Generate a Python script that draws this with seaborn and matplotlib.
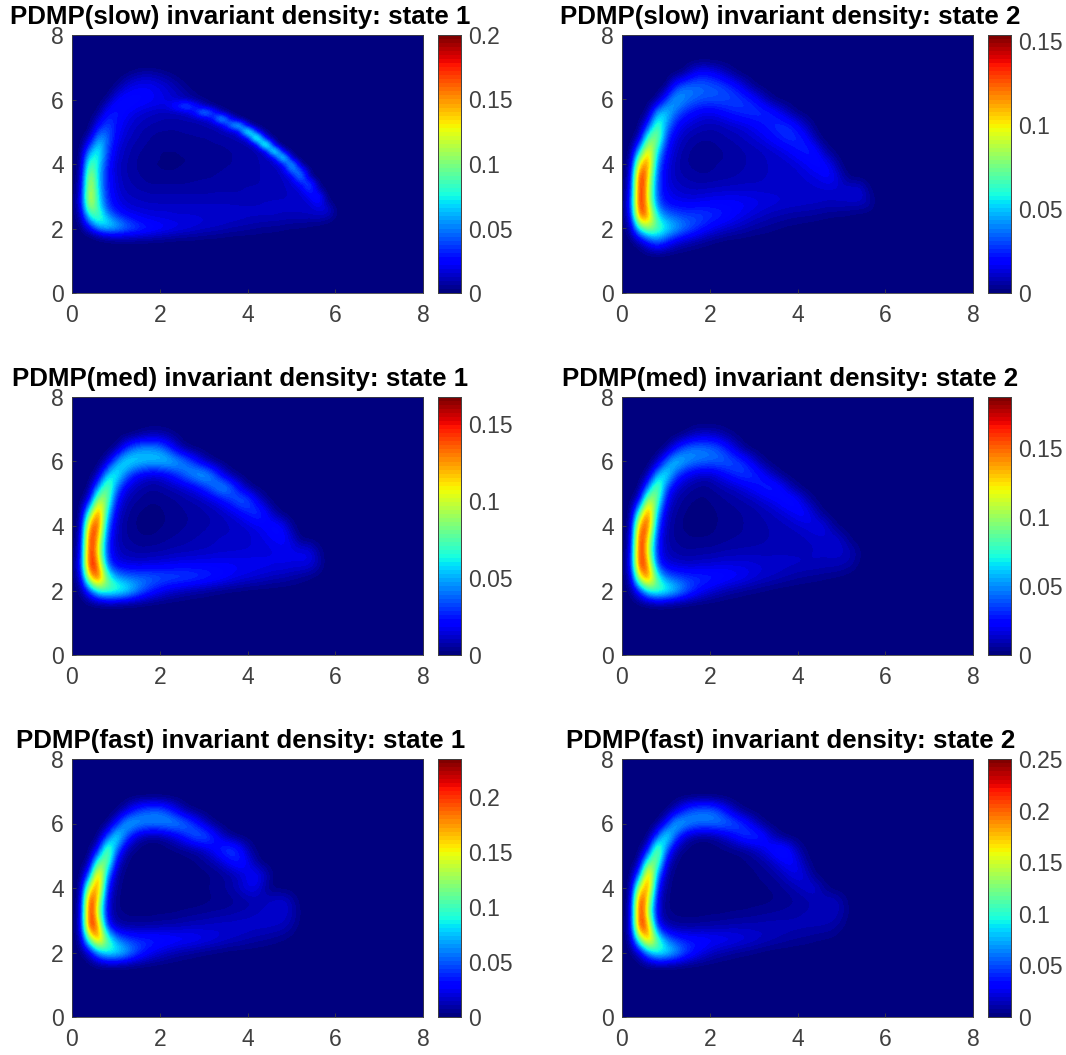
import numpy as np
import seaborn as sns
import matplotlib.pyplot as plt

# density x 1000. columns start at x = 0 with step 0.2,
# trailing zeros left out. rows run from y = 7.2 down to y = 1.6
# slow_state1 has the thin ridge so its rows are 0.2 apart, the others 0.4
slow_state1 = [
    [0],
    [0, 0, 0, 0, 0, 0, 0, 1, 2, 2, 1],
    [0, 0, 0, 0, 0, 0, 2, 6, 9, 9, 7, 4, 1],
    [0, 0, 0, 0, 0, 1, 8, 14, 16, 16, 13, 9, 5, 1],
    [0, 0, 0, 0, 0, 5, 15, 20, 22, 21, 18, 14, 9, 4, 1],
    [0, 0, 0, 0, 1, 13, 22, 25, 25, 23, 20, 16, 12, 7, 3, 1],
    [0, 0, 0, 0, 6, 22, 27, 27, 25, 23, 20, 18, 14, 11, 6, 3, 1],
    [0, 0, 0, 1, 16, 28, 28, 25, 22, 20, 18, 20, 35, 50, 30, 12, 4, 1],
    [0, 0, 0, 5, 26, 30, 25, 20, 16, 14, 12, 12, 13, 16, 28, 65, 38, 10, 2],
    [0, 0, 0, 14, 34, 30, 22, 16, 13, 11, 10, 9, 9, 10, 11, 14, 25, 80, 25, 4],
    [0, 0, 1, 26, 40, 28, 19, 14, 11, 9, 8, 7, 7, 8, 8, 9, 11, 15, 55, 80, 12, 1],
    [0, 0, 4, 42, 45, 26, 17, 12, 9, 7, 6, 6, 6, 7, 7, 8, 8, 10, 12, 20, 110, 25, 3],
    [0, 0, 15, 58, 47, 24, 15, 11, 8, 6, 5, 5, 5, 5, 6, 6, 7, 8, 9, 11, 16, 120, 18, 2],
    [0, 0, 32, 72, 44, 21, 13, 9, 7, 5, 4, 4, 4, 4, 5, 5, 6, 6, 7, 8, 9, 14, 125, 8],
    [0, 0, 55, 80, 40, 18, 12, 8, 6, 4, 3, 3, 3, 4, 4, 5, 5, 6, 6, 7, 8, 9, 13, 110, 12, 1],
    [0, 0, 78, 78, 36, 17, 11, 7, 5, 4, 3, 3, 3, 3, 4, 4, 5, 5, 6, 7, 8, 9, 11, 18, 100, 6],
    [0, 2, 98, 72, 32, 15, 10, 7, 5, 3, 3, 3, 3, 3, 4, 5, 5, 6, 6, 7, 8, 9, 10, 12, 25, 75, 3],
    [0, 3, 112, 68, 30, 15, 10, 7, 5, 4, 3, 3, 3, 4, 4, 5, 6, 6, 7, 7, 8, 9, 10, 11, 14, 55, 45, 1],
    [0, 5, 125, 66, 30, 16, 10, 8, 6, 4, 4, 4, 4, 5, 5, 6, 6, 7, 7, 8, 8, 9, 10, 11, 12, 20, 62, 8],
    [0, 7, 132, 66, 30, 17, 11, 9, 7, 6, 6, 6, 6, 6, 7, 7, 7, 8, 8, 8, 9, 9, 10, 11, 12, 15, 30, 45, 2],
    [0, 10, 135, 68, 31, 18, 12, 10, 9, 8, 8, 8, 8, 8, 8, 8, 9, 9, 9, 9, 10, 10, 11, 11, 12, 13, 16, 42, 12],
    [0, 12, 138, 72, 33, 20, 14, 12, 11, 10, 10, 10, 10, 10, 10, 10, 10, 10, 10, 10, 11, 11, 11, 12, 12, 13, 14, 22, 35, 1],
    [0, 14, 130, 76, 36, 22, 16, 14, 13, 12, 12, 12, 12, 12, 12, 12, 12, 12, 12, 12, 12, 12, 13, 13, 13, 13, 14, 15, 28, 8],
    [0, 12, 110, 85, 42, 28, 20, 17, 16, 15, 15, 15, 14, 14, 14, 14, 14, 14, 14, 13, 13, 13, 13, 13, 13, 13, 13, 14, 17, 18, 2],
    [0, 8, 80, 90, 58, 38, 28, 23, 20, 18, 17, 17, 16, 16, 16, 15, 15, 14, 14, 14, 13, 13, 13, 13, 12, 12, 12, 12, 13, 12, 3],
    [0, 4, 50, 78, 70, 55, 42, 33, 27, 24, 22, 20, 19, 18, 17, 16, 15, 14, 13, 12, 11, 10, 9, 9, 8, 7, 7, 6, 6, 4, 1],
    [0, 1, 22, 50, 60, 55, 45, 38, 32, 28, 24, 21, 19, 17, 15, 13, 12, 11, 9, 8, 7, 6, 5, 5, 4, 3, 3, 2, 1],
    [0, 0, 4, 14, 22, 24, 22, 20, 18, 16, 14, 12, 10, 9, 8, 7, 6, 5, 4, 4, 3, 3, 2, 2, 1, 1],
    [0, 0, 0, 1, 3, 4, 5, 5, 4, 4, 3, 3, 2, 2, 2, 1, 1, 1],
]
slow_state2 = [
    [0],
    [0, 0, 0, 0, 0, 0, 0, 2, 15, 22, 20, 15, 8, 2],
    [0, 0, 0, 0, 0, 0, 25, 38, 38, 36, 34, 32, 28, 22, 12, 3],
    [0, 0, 0, 0, 1, 28, 48, 42, 36, 33, 32, 32, 31, 30, 27, 22, 12, 3],
    [0, 0, 0, 3, 45, 55, 38, 26, 20, 16, 15, 18, 22, 25, 27, 28, 27, 24, 16, 7, 1],
    [0, 0, 1, 25, 75, 45, 22, 14, 11, 9, 8, 8, 10, 12, 14, 17, 21, 25, 27, 26, 18, 8, 1],
    [0, 0, 6, 75, 85, 30, 14, 9, 6, 5, 5, 6, 7, 8, 10, 12, 15, 19, 24, 27, 26, 20, 6],
    [0, 0, 50, 115, 55, 20, 11, 6, 4, 3, 3, 4, 5, 6, 7, 8, 9, 11, 13, 17, 22, 25, 22, 8, 1],
    [0, 3, 110, 125, 38, 16, 9, 5, 4, 3, 4, 5, 5, 6, 7, 8, 9, 10, 10, 11, 13, 17, 22, 21, 12, 1],
    [0, 8, 150, 105, 30, 14, 9, 7, 6, 5, 5, 6, 6, 7, 8, 8, 9, 10, 10, 10, 11, 12, 14, 18, 19, 8],
    [0, 12, 153, 95, 30, 16, 12, 10, 9, 9, 10, 10, 11, 11, 11, 11, 11, 11, 11, 11, 11, 11, 11, 11, 11, 12, 14, 15, 4],
    [0, 20, 154, 95, 32, 20, 17, 16, 16, 17, 18, 19, 19, 19, 18, 17, 15, 14, 13, 12, 12, 11, 11, 10, 10, 10, 10, 10, 8, 1],
    [0, 15, 135, 120, 55, 38, 33, 30, 30, 30, 28, 25, 22, 18, 15, 12, 10, 8, 7, 6, 5, 5, 4, 3, 2, 2, 1],
    [0, 6, 60, 85, 75, 60, 50, 40, 32, 24, 18, 14, 11, 9, 7, 5, 4, 3, 2, 1, 1],
    [0, 0, 5, 22, 35, 25, 14, 9, 6, 4, 2, 1],
]
med_state1 = [
    [0],
    [0, 0, 0, 0, 0, 0, 0, 1, 5, 8, 8, 5, 2],
    [0, 0, 0, 0, 0, 2, 25, 42, 48, 48, 44, 30, 12, 2],
    [0, 0, 0, 0, 8, 45, 65, 62, 58, 56, 58, 58, 52, 42, 26, 10, 2],
    [0, 0, 0, 6, 55, 70, 45, 25, 17, 13, 14, 20, 30, 42, 52, 55, 42, 18, 4],
    [0, 0, 1, 45, 90, 45, 18, 10, 7, 5, 6, 8, 10, 13, 18, 28, 40, 52, 42, 20, 4],
    [0, 0, 15, 105, 85, 25, 10, 6, 4, 3, 3, 4, 5, 7, 8, 10, 14, 20, 30, 40, 38, 18, 4],
    [0, 0, 75, 145, 60, 15, 7, 3, 2, 1, 2, 3, 4, 5, 6, 7, 8, 10, 13, 18, 26, 33, 24, 6],
    [0, 2, 135, 145, 40, 12, 5, 3, 1, 1, 2, 3, 4, 5, 6, 7, 8, 9, 10, 11, 13, 16, 20, 26, 20, 4],
    [0, 6, 160, 120, 30, 10, 6, 4, 3, 3, 4, 5, 6, 7, 8, 9, 10, 11, 11, 11, 12, 14, 16, 19, 22, 14, 1],
    [0, 10, 165, 105, 28, 12, 8, 7, 6, 7, 7, 8, 9, 9, 10, 10, 11, 12, 12, 13, 13, 14, 14, 15, 16, 17, 18, 18, 6],
    [0, 18, 165, 130, 35, 18, 15, 14, 14, 15, 16, 17, 18, 19, 19, 20, 20, 20, 20, 19, 19, 18, 18, 17, 17, 16, 16, 15, 9],
    [0, 10, 115, 150, 80, 50, 42, 40, 40, 40, 38, 37, 36, 35, 33, 30, 27, 24, 20, 17, 15, 13, 11, 9, 8, 6, 4, 2],
    [0, 2, 30, 70, 80, 78, 70, 55, 40, 28, 20, 14, 11, 8, 6, 5, 3, 2, 1, 1],
    [0, 0, 0, 0, 1, 1],
]
med_state2 = [
    [0],
    [0, 0, 0, 0, 0, 0, 0, 2, 10, 14, 14, 11, 6, 2],
    [0, 0, 0, 0, 0, 2, 22, 42, 48, 48, 46, 40, 28, 14, 3],
    [0, 0, 0, 0, 6, 42, 68, 58, 50, 46, 44, 44, 42, 38, 30, 16, 4],
    [0, 0, 0, 5, 55, 78, 42, 24, 16, 12, 12, 18, 26, 33, 36, 33, 24, 12, 3],
    [0, 0, 0, 45, 105, 42, 16, 9, 6, 4, 5, 8, 10, 13, 18, 24, 30, 33, 26, 12, 3],
    [0, 0, 15, 120, 90, 22, 9, 5, 3, 2, 3, 4, 6, 7, 9, 11, 15, 19, 25, 30, 24, 10, 2],
    [0, 0, 85, 165, 58, 13, 6, 3, 1, 1, 2, 3, 4, 5, 6, 7, 9, 11, 14, 18, 24, 24, 12, 2],
    [0, 2, 150, 160, 38, 10, 5, 2, 1, 1, 2, 3, 4, 5, 6, 7, 8, 9, 10, 11, 13, 16, 20, 18, 6],
    [0, 6, 180, 125, 28, 9, 5, 4, 3, 3, 3, 4, 5, 6, 6, 7, 8, 9, 9, 10, 10, 11, 12, 14, 16, 12, 2],
    [0, 10, 186, 110, 26, 11, 8, 6, 6, 7, 7, 8, 9, 9, 10, 10, 10, 10, 11, 11, 11, 11, 12, 12, 13, 13, 11, 4],
    [0, 16, 180, 140, 32, 17, 14, 13, 13, 14, 15, 16, 17, 17, 17, 16, 15, 15, 14, 13, 13, 12, 12, 11, 11, 10, 7, 2],
    [0, 9, 120, 160, 80, 46, 38, 35, 33, 33, 32, 30, 27, 24, 21, 17, 14, 12, 10, 8, 6, 5, 4, 3, 2, 1],
    [0, 2, 30, 75, 90, 82, 68, 50, 35, 24, 17, 12, 8, 6, 4, 3, 2, 1],
    [0, 0, 0, 0, 2, 2, 1],
]
fast_state1 = [
    [0],
    [0],
    [0, 0, 0, 0, 0, 0, 12, 35, 50, 55, 55, 42, 22, 6, 1],
    [0, 0, 0, 0, 1, 28, 75, 78, 68, 65, 66, 70, 68, 58, 40, 18, 4],
    [0, 0, 0, 1, 40, 100, 60, 22, 8, 4, 5, 12, 24, 40, 55, 58, 42, 18, 4],
    [0, 0, 0, 25, 130, 65, 14, 3, 1, 0, 1, 2, 3, 5, 8, 15, 28, 42, 50, 36, 12, 2],
    [0, 0, 6, 115, 125, 25, 4, 1, 0, 0, 0, 0, 1, 2, 3, 6, 10, 18, 30, 38, 26, 6],
    [0, 0, 50, 200, 65, 9, 2, 1, 0, 0, 0, 0, 0, 1, 1, 2, 3, 5, 8, 14, 24, 30, 16, 2],
    [0, 1, 150, 195, 35, 6, 2, 0, 0, 0, 0, 0, 1, 1, 2, 3, 5, 7, 10, 16, 24, 22, 7],
    [0, 4, 228, 150, 22, 4, 1, 0, 0, 0, 0, 0, 0, 1, 1, 2, 3, 3, 5, 6, 8, 11, 14, 18, 20, 11, 1],
    [0, 8, 234, 130, 20, 5, 3, 2, 2, 2, 3, 3, 4, 5, 6, 7, 8, 9, 10, 12, 13, 15, 16, 17, 18, 13, 3],
    [0, 12, 226, 180, 35, 12, 8, 8, 8, 9, 10, 11, 12, 14, 15, 16, 17, 18, 18, 18, 18, 17, 17, 16, 14, 8, 1],
    [0, 6, 115, 190, 115, 65, 48, 42, 40, 40, 38, 36, 34, 32, 30, 26, 23, 19, 16, 14, 11, 9, 7, 5, 3, 1],
    [0, 1, 15, 65, 95, 95, 80, 58, 40, 28, 20, 14, 10, 7, 5, 3, 2, 1],
    [0],
]
fast_state2 = [
    [0],
    [0, 0, 0, 0, 0, 0, 0, 0, 0, 1, 1],
    [0, 0, 0, 0, 0, 0, 14, 40, 58, 62, 62, 50, 30, 10, 2],
    [0, 0, 0, 0, 1, 30, 85, 80, 68, 64, 64, 66, 62, 55, 40, 20, 5],
    [0, 0, 0, 0, 45, 110, 60, 20, 7, 3, 4, 10, 20, 34, 46, 50, 40, 18, 4],
    [0, 0, 0, 28, 145, 65, 13, 3, 1, 0, 1, 2, 3, 4, 7, 13, 24, 36, 44, 34, 12, 2],
    [0, 0, 7, 125, 130, 24, 4, 1, 0, 0, 0, 0, 1, 2, 3, 5, 8, 15, 25, 33, 25, 7],
    [0, 0, 55, 215, 68, 9, 2, 0, 0, 0, 0, 0, 0, 0, 2, 3, 5, 7, 12, 20, 26, 18, 3],
    [0, 1, 160, 205, 36, 6, 2, 0, 0, 0, 0, 0, 0, 0, 1, 2, 3, 4, 6, 9, 14, 20, 21, 7],
    [0, 4, 242, 155, 22, 4, 1, 0, 0, 0, 0, 0, 0, 0, 1, 2, 2, 3, 4, 6, 7, 9, 12, 15, 18, 10, 1],
    [0, 8, 248, 135, 20, 5, 3, 2, 2, 2, 3, 3, 4, 5, 5, 6, 7, 8, 9, 10, 11, 13, 14, 15, 15, 10, 2],
    [0, 12, 238, 190, 36, 12, 8, 8, 8, 9, 10, 11, 12, 13, 14, 14, 15, 15, 15, 14, 14, 13, 13, 12, 10, 5],
    [0, 6, 120, 200, 120, 65, 46, 38, 36, 36, 34, 32, 30, 27, 24, 20, 17, 14, 11, 9, 7, 6, 4, 3, 2],
    [0, 1, 15, 70, 105, 100, 82, 58, 40, 27, 18, 12, 9, 6, 4, 3, 1],
    [0],
]

titles = ['PDMP(slow) invariant density: state 1', 'PDMP(slow) invariant density: state 2',
          'PDMP(med) invariant density: state 1', 'PDMP(med) invariant density: state 2',
          'PDMP(fast) invariant density: state 1', 'PDMP(fast) invariant density: state 2']
panels = [slow_state1, slow_state2, med_state1, med_state2, fast_state1, fast_state2]
vmaxes = [0.2, 0.1536, 0.1675, 0.187, 0.2345, 0.2496]
cbar_ticks = [[0, 0.05, 0.1, 0.15, 0.2], [0, 0.05, 0.1, 0.15], [0, 0.05, 0.1, 0.15],
              [0, 0.05, 0.1, 0.15], [0, 0.05, 0.1, 0.15, 0.2], [0, 0.05, 0.1, 0.15, 0.2, 0.25]]
axis_ticks = [0, 2, 4, 6, 8]

W, H = 1066, 1055
left_px = [72, 622]
top_px = [35, 397, 759]
ax_w, ax_h = 351, 258
dark = '#404040'
x_step = 0.2

sns.set_theme(style='white')
plt.rcParams['font.family'] = ['Liberation Sans', 'DejaVu Sans']


def to_grid(rows):
    # fill in the empty border so the grid covers 0..8 both ways
    y_step = 5.6 / (len(rows) - 1)
    ncol = int(8 / x_step) + 1
    top = int(round(0.8 / y_step))
    bottom = int(round(1.6 / y_step))
    full = [[0] * ncol for _ in range(top)]
    full += [r + [0] * (ncol - len(r)) for r in rows]
    full += [[0] * ncol for _ in range(bottom)]
    return np.array(full) / 1000, y_step


fig = plt.figure(figsize=(W / 100, H / 100), dpi=100)
for i, rows in enumerate(panels):
    x0 = left_px[i % 2]
    y0 = top_px[i // 2]
    ax = fig.add_axes([x0 / W, 1 - (y0 + ax_h) / H, ax_w / W, ax_h / H])
    cax = fig.add_axes([(x0 + 366) / W, 1 - (y0 + ax_h) / H, 23 / W, ax_h / H])
    grid, y_step = to_grid(rows)
    nrow, ncol = grid.shape
    cmap = plt.get_cmap('jet', 64)
    sns.heatmap(grid, ax=ax, cbar_ax=cax, cmap=cmap, vmin=0, vmax=vmaxes[i],
                xticklabels=False, yticklabels=False)
    # smooth the cells the way the original surface is shaded
    mesh = ax.collections[0]
    mesh.set_visible(False)
    ax.imshow(grid, cmap=cmap, norm=mesh.norm, interpolation='bicubic', interpolation_stage='data',
              extent=(0, ncol, nrow, 0), aspect='auto')
    ax.set_xlim(0.5, ncol - 0.5)
    ax.set_ylim(nrow - 0.5, 0.5)
    ax.set_xticks([v / x_step + 0.5 for v in axis_ticks], [str(v) for v in axis_ticks])
    ax.set_yticks([(8 - v) / y_step + 0.5 for v in axis_ticks], [str(v) for v in axis_ticks])
    ax.tick_params(direction='in', length=3, width=0.6, color=dark, labelcolor=dark, labelsize=16.5,
                   bottom=True, left=True)
    ax.tick_params(axis='x', pad=8)
    ax.tick_params(axis='y', pad=6)
    for s in ax.spines.values():
        s.set_visible(True)
        s.set_color(dark)
        s.set_linewidth(0.6)
    ax.set_title(titles[i], fontsize=18.6, fontweight='bold', color='black', pad=8, x=0.48)

    cax.set_yticks(cbar_ticks[i], [f'{v:g}' for v in cbar_ticks[i]])
    cax.tick_params(direction='in', length=3, width=0.6, color=dark, labelcolor=dark, labelsize=16.5, pad=5,
                    right=True, left=False)
    for s in cax.spines.values():
        s.set_visible(True)
        s.set_color(dark)
        s.set_linewidth(0.6)

plt.savefig('out.png', dpi=100)
